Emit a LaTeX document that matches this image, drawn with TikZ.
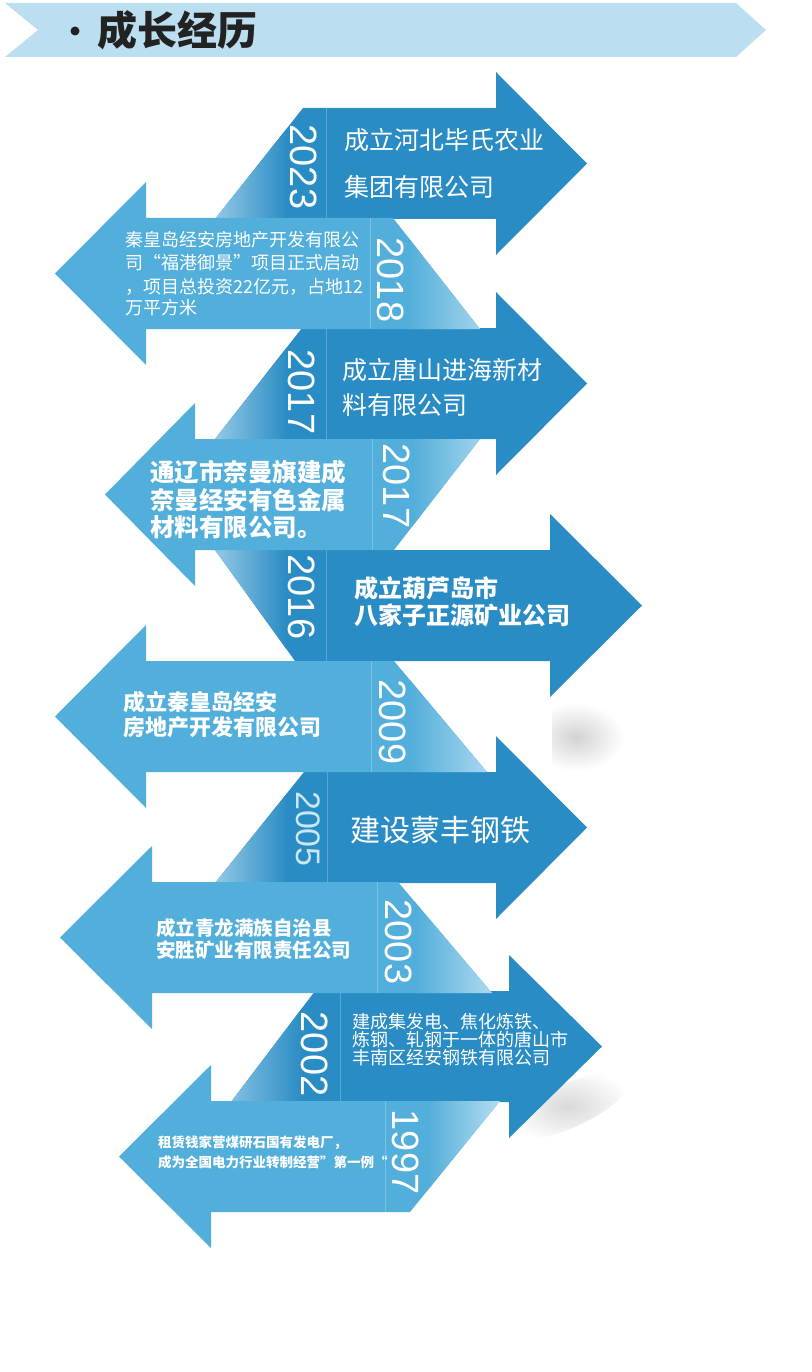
\documentclass[tikz,border=0pt]{standalone}
\usepackage{fontspec}
\newfontfamily\cjk{Noto Sans CJK SC}
\newfontfamily\yearfont{Liberation Sans}
\definecolor{darkblue}{HTML}{2A8CC4}
\definecolor{lightblue}{HTML}{52AEDA}
\definecolor{bannerblue}{HTML}{BBDEF0}
\definecolor{rpale}{HTML}{A9D5EE}
\definecolor{lpale}{HTML}{BCE0F3}
\definecolor{rsep}{HTML}{5AA6D6}
\definecolor{lsep}{HTML}{7CC1E4}
\definecolor{yearpale}{HTML}{CBE6F5}
\definecolor{titlegray}{HTML}{222222}
\newcommand{\cjksize}[1]{\cjk\fontsize{#1}{#1}\selectfont}
\tikzset{
  yearlabel/.style={text=white, rotate=-90, inner sep=0pt, font=\yearfont\fontsize{38}{38}\selectfont},
  desc/.style={anchor=west, inner sep=0pt, text=white},
  sepline/.style={line width=1pt}
}

\begin{document}
\begin{tikzpicture}[x=1pt, y=-1pt]
    \useasboundingbox (0,0) rectangle (811,1372);

    % Header banner
    \fill[bannerblue] (5,3) -- (736,3) -- (766,30) -- (736,57) -- (5,57) -- (38,30) -- cycle;
    \fill[titlegray] (75,31) circle (4.5);
    \node[anchor=west, inner sep=0pt, text=titlegray, font=\cjksize{40}\bfseries] (title) at (97,30) {成长经历};

    % Soft shadows
    \begin{scope}
        \clip (552,700) rectangle (630,780);
        \shade[inner color=gray!35, outer color=white] (576,737) ellipse (48 and 34);
    \end{scope}
    \shade[inner color=gray!30, outer color=white, rotate around={24:(568,1106)}] (568,1106) ellipse (66 and 22);

    % Right arrows (dark)
    \foreach \yt/\xb/\xp/\xl/\xr/\xdt/\xdb in {108/496/587/287/326/303/215, 328/496/587/287/326/302/215,
        550/550/642/286/326/215/295, 772/496/587/287/327/304/215, 991/509/602/302/340/315/231} {
        \fill[darkblue] (\xdt,\yt) -- (\xb,\yt) -- (\xb,\yt-36) -- (\xp,\yt+55.5) -- (\xb,\yt+147)
            -- (\xb,\yt+111) -- (\xdb,\yt+111) -- cycle;
        \begin{scope}
            \clip (\xdt,\yt) -- (\xb,\yt) -- (\xb,\yt+111) -- (\xdb,\yt+111) -- cycle;
            \shade[left color=rpale, right color=darkblue] (200,\yt) rectangle (\xl,\yt+111);
            \draw[sepline, draw=rsep] (\xr,\yt) -- (\xr,\yt+111);
        \end{scope}
    }

    % Left arrows (light)
    \foreach \yt/\xb/\xp/\xs/\xr/\xdt/\xdb in {218/146/55/370/408/393/480, 439/195/105/372/412/480/394,
        661/146/55/371/410/394/487, 882/152/60/377/415/398/492, 1101/211/119/385/427/500/410} {
        \fill[lightblue] (\xb,\yt) -- (\xdt,\yt) -- (\xdb,\yt+111) -- (\xb,\yt+111) -- (\xb,\yt+147)
            -- (\xp,\yt+55.5) -- (\xb,\yt-36) -- cycle;
        \begin{scope}
            \clip (\xb,\yt) -- (\xdt,\yt) -- (\xdb,\yt+111) -- (\xb,\yt+111) -- cycle;
            \shade[left color=lightblue, right color=lpale] (\xr,\yt) rectangle (505,\yt+111);
            \draw[sepline, draw=lsep] (\xs,\yt) -- (\xs,\yt+111);
        \end{scope}
    }

    % Years
    \node[yearlabel] (y2023) at (304,167) {2023};
    \node[yearlabel] (y2018) at (391,280) {2018};
    \node[yearlabel] (y2017a) at (302,392) {2017};
    \node[yearlabel] (y2017b) at (397,486) {2017};
    \node[yearlabel] (y2016) at (302,597) {2016};
    \node[yearlabel] (y2009) at (393,722) {2009};
    \node[yearlabel, text=yearpale, font=\yearfont\fontsize{34}{34}\selectfont] (y2005) at (308,829) {2005};
    \node[yearlabel] (y2003) at (399,942) {2003};
    \node[yearlabel] (y2002) at (315,1054) {2002};
    \node[yearlabel] (y1997) at (406,1152) {1997};

    % Texts
    \node[desc, font=\cjksize{25}] (t2023a) at (344,140) {成立河北毕氏农业};
    \node[desc, font=\cjksize{25}] (t2023b) at (344,187) {集团有限公司};
    \node[desc, font=\cjksize{18}] (t2018a) at (125,240) {秦皇岛经安房地产开发有限公};
    \node[desc, font=\cjksize{18}] (t2018b) at (125,263) {司“福港御景”项目正式启动};
    \node[desc, font=\cjksize{18}] (t2018c) at (125,287) {，项目总投资22亿元，占地12};
    \node[desc, font=\cjksize{18}] (t2018d) at (125,308) {万平方米};
    \node[desc, font=\cjksize{25}] (t2017a) at (342,370) {成立唐山进海新材};
    \node[desc, font=\cjksize{25}] (t2017b) at (342,405) {料有限公司};
    \node[desc, font=\cjksize{24.5}\bfseries] (t2017c) at (150,472) {通辽市奈曼旗建成};
    \node[desc, font=\cjksize{24.5}\bfseries] (t2017d) at (150,500) {奈曼经安有色金属};
    \node[desc, font=\cjksize{24.5}\bfseries] (t2017e) at (150,527) {材料有限公司。};
    \node[desc, font=\cjksize{24}\bfseries] (t2016a) at (354,588) {成立葫芦岛市};
    \node[desc, font=\cjksize{24}\bfseries] (t2016b) at (354,615) {八家子正源矿业公司};
    \node[desc, font=\cjksize{22}\bfseries] (t2009a) at (123,702) {成立秦皇岛经安};
    \node[desc, font=\cjksize{22}\bfseries] (t2009b) at (123,727) {房地产开发有限公司};
    \node[desc, font=\cjksize{30}] (t2005) at (350,830) {建设蒙丰钢铁};
    \node[desc, font=\cjksize{19.5}\bfseries] (t2003a) at (156,928) {成立青龙满族自治县};
    \node[desc, font=\cjksize{19.5}\bfseries] (t2003b) at (156,950) {安胜矿业有限责任公司};
    \node[desc, font=\cjksize{18}] (t2002a) at (352,1022) {建成集发电、焦化炼铁、};
    \node[desc, font=\cjksize{18}] (t2002b) at (352,1040) {炼钢、轧钢于一体的唐山市};
    \node[desc, font=\cjksize{18}] (t2002c) at (352,1058) {丰南区经安钢铁有限公司};
    \node[desc, font=\cjksize{13.5}\bfseries] (t1997a) at (158,1143) {租赁钱家营煤研石国有发电厂，};
    \node[desc, font=\cjksize{13.5}\bfseries] (t1997b) at (158,1162) {成为全国电力行业转制经营”第一例“};
\end{tikzpicture}
\end{document}
